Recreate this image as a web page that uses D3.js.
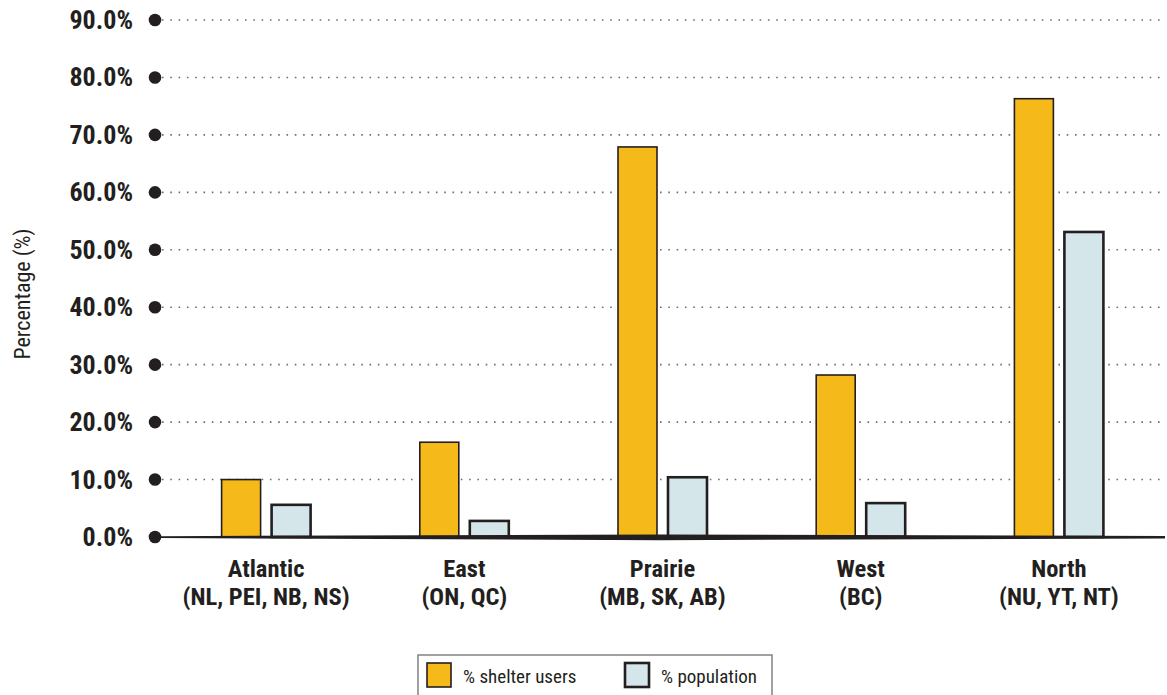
<!DOCTYPE html>
<html><head><meta charset="utf-8">
<script src="https://cdn.jsdelivr.net/npm/d3@7"></script>
<style>
body{margin:0;background:#fff;}
text{font-family:"Liberation Sans Narrow","Arial Narrow","Roboto Condensed",Roboto,sans-serif;}
</style></head>
<body><svg id="c" width="1167" height="695"></svg>
<script>
const categories = ["Atlantic","East","Prairie","West","North"];
const subLabels = ["(NL, PEI, NB, NS)","(ON, QC)","(MB, SK, AB)","(BC)","(NU, YT, NT)"];
const shelterUsers = [10.0, 16.5, 67.9, 28.2, 76.3];
const population = [5.6, 2.8, 10.4, 5.9, 53.1];
const yTicks = [0,10,20,30,40,50,60,70,80,90];
const seriesNames = ["% shelter users","% population"];

const svg = d3.select("#c");
const y = d3.scaleLinear().domain([0,90]).range([537,20]);
const x = d3.scaleBand().domain(categories).range([167,1158]);
const inner = d3.scaleBand().domain(seriesNames).range([-44.5,44.5]).paddingInner(0.22);
const colors = {"% shelter users":"#F6B91A","% population":"#D4E6E9"};
const strokeW = {"% shelter users":1.6,"% population":2.6};

// gridlines
svg.append("g").selectAll("line").data(yTicks.filter(d=>d>0)).join("line")
  .attr("x1",162).attr("x2",1165).attr("y1",d=>y(d)).attr("y2",d=>y(d))
  .attr("stroke","#6d6e71").attr("stroke-width",1.6).attr("stroke-dasharray","1.6,6.7").attr("stroke-linecap","butt");

// bars
const rows = categories.map((c,i)=>({c, vals:[{k:seriesNames[0],v:shelterUsers[i]},{k:seriesNames[1],v:population[i]}]}));
const g = svg.append("g").selectAll("g").data(rows).join("g")
  .attr("transform",d=>`translate(${x(d.c)+x.bandwidth()/2},0)`);
g.selectAll("rect").data(d=>d.vals).join("rect")
  .attr("x",d=>inner(d.k)).attr("width",inner.bandwidth())
  .attr("y",d=>y(d.v)).attr("height",d=>y(0)-y(d.v))
  .attr("fill",d=>colors[d.k]).attr("stroke","#231f20").attr("stroke-width",d=>strokeW[d.k]);

// tapered baseline
const y0 = y(0);
svg.append("path")
  .attr("d",`M160,${y0-0.8} L660,${y0-2.6} L1165,${y0-1} L1165,${y0+1.4} L660,${y0+3.2} L160,${y0+1} Z`)
  .attr("fill","#231f20");

// y tick dots and labels
svg.append("g").selectAll("circle").data(yTicks).join("circle")
  .attr("cx",155).attr("cy",d=>y(d)).attr("r",6.3).attr("fill","#231f20");
svg.append("g").selectAll("text").data(yTicks).join("text")
  .attr("x",133).attr("y",d=>y(d)+9).attr("text-anchor","end")
  .attr("font-size",26).attr("font-weight","bold").attr("fill","#231f20")
  .text(d=>d3.format(".1f")(d)+"%");

// y axis title
svg.append("text").attr("transform","translate(30,294) rotate(-90)")
  .attr("text-anchor","middle").attr("font-size",22).attr("fill","#231f20")
  .text("Percentage (%)");

// x labels
const xl = svg.append("g").selectAll("text").data(categories).join("text")
  .attr("text-anchor","middle").attr("font-size",24.5).attr("font-weight","bold").attr("fill","#231f20");
xl.append("tspan").attr("x",d=>x(d)+x.bandwidth()/2).attr("y",577).text(d=>d);
xl.append("tspan").attr("x",d=>x(d)+x.bandwidth()/2).attr("y",605).text((d,i)=>subLabels[i]);

// legend
const lg = svg.append("g");
lg.append("rect").attr("x",418).attr("y",655).attr("width",354).attr("height",45)
  .attr("fill","#fff").attr("stroke","#808285").attr("stroke-width",1.5);
const lx = [427,625];
seriesNames.forEach((s,i)=>{
  lg.append("rect").attr("x",lx[i]).attr("y",663).attr("width",24).attr("height",24)
    .attr("fill",colors[s]).attr("stroke","#231f20").attr("stroke-width",strokeW[s]);
  lg.append("text").attr("x",lx[i]+36).attr("y",683).attr("font-size",19).attr("fill","#231f20").text(s);
});
</script></body></html>
